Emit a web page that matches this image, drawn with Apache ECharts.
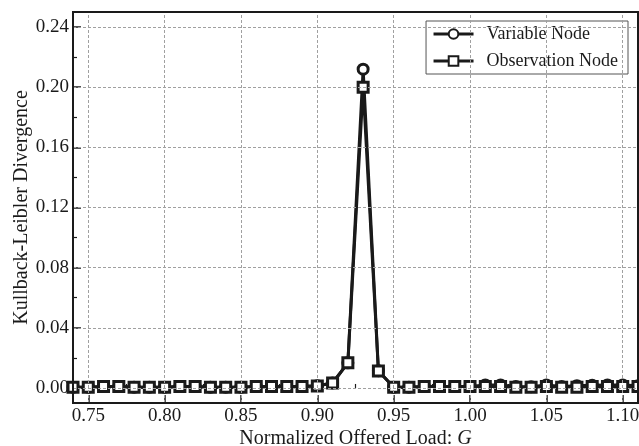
<!DOCTYPE html>
<html>
<head>
<meta charset="utf-8">
<script src="https://cdn.jsdelivr.net/npm/echarts@6/dist/echarts.min.js"></script>
<style>
  html, body { margin: 0; padding: 0; background: #fff; }
  #chart { width: 639px; height: 446px; }
</style>
</head>
<body>
<div id="chart"></div>
<script>
// offered load G
const loads = [0.74, 0.75, 0.76, 0.77, 0.78, 0.79, 0.80, 0.81, 0.82, 0.83, 0.84, 0.85, 0.86, 0.87, 0.88, 0.89,
  0.90, 0.91, 0.92, 0.93, 0.94, 0.95, 0.96, 0.97, 0.98, 0.99, 1.00, 1.01, 1.02, 1.03, 1.04, 1.05, 1.06, 1.07,
  1.08, 1.09, 1.10, 1.11];

const variableNode = [0.0005, 0.0005, 0.001, 0.001, 0.0005, 0.0005, 0.0005, 0.001, 0.001, 0.0005, 0.0005, 0.0005,
  0.001, 0.001, 0.001, 0.001, 0.0015, 0.0033, 0.0167, 0.212, 0.0115, 0.0005, 0.0005, 0.001, 0.001, 0.001,
  0.001, 0.002, 0.002, 0.001, 0.0008, 0.002, 0.001, 0.0015, 0.0018, 0.002, 0.002, 0.0015];

const observationNode = [0.0005, 0.0005, 0.001, 0.001, 0.0005, 0.0005, 0.0005, 0.001, 0.001, 0.0005, 0.0005, 0.0005,
  0.001, 0.001, 0.001, 0.001, 0.0013, 0.0033, 0.0167, 0.200, 0.0113, 0.0005, 0.0005, 0.001, 0.001, 0.001,
  0.001, 0.001, 0.001, 0.0005, 0.0005, 0.001, 0.0005, 0.0005, 0.001, 0.001, 0.001, 0.001];

// tick positions
const xTicks = [0.75, 0.80, 0.85, 0.90, 0.95, 1.00, 1.05, 1.10];
const xMinor = [0.775, 0.825, 0.875, 0.925, 0.975, 1.025, 1.075];
const yTicks = [0.00, 0.04, 0.08, 0.12, 0.16, 0.20, 0.24];
const yMinor = [0.02, 0.06, 0.10, 0.14, 0.18, 0.22];

const font = 'Liberation Serif';
const ink = '#1a1a1a';
const xRange = [0.74, 1.11];
const yRange = [-0.01, 0.25];

let chart = echarts.init(document.getElementById('chart'));

function mkSeries(name, symbol, vals) {
  return {
    name: name,
    type: 'line',
    data: loads.map((x, i) => [x, vals[i]]),
    symbol: symbol,
    symbolSize: 10,
    lineStyle: { color: ink, width: 3 },
    itemStyle: { color: '#fff', borderColor: ink, borderWidth: 3 },
    emphasis: { disabled: true },
    z: 3
  };
}

const gridLine = { color: '#a0a0a0', type: [3, 2], width: 1 };

function minorAxis(pos, lo, hi, vals) {
  return {
    type: 'value',
    position: pos,
    min: lo, max: hi,
    axisLine: { show: false },
    axisTick: { show: true, inside: true, length: 4, customValues: vals, lineStyle: { color: ink, width: 1.2 } },
    axisLabel: { show: false },
    splitLine: { show: false }
  };
}

chart.setOption({
  animation: false,
  textStyle: { fontFamily: font },
  grid: { left: 73, right: 1, top: 12, bottom: 43, containLabel: false, outerBoundsMode: 'none' },
  legend: {
    orient: 'vertical',
    right: 11,
    top: 21,
    itemWidth: 40,
    itemHeight: 12,
    itemGap: 9,
    padding: [4, 10, 4, 6],
    borderColor: '#555',
    borderWidth: 1,
    borderRadius: 0,
    backgroundColor: '#fff',
    lineStyle: { width: 3 },
    textStyle: { fontFamily: font, fontSize: 18, color: ink, padding: [0, 0, 0, 8] },
    data: ['Variable Node', 'Observation Node']
  },
  xAxis: [{
    type: 'value',
    position: 'bottom',
    min: xRange[0],
    max: xRange[1],
    name: '{n|Normalized Offered Load: }{g|G}',
    nameLocation: 'middle',
    nameGap: 26,
    nameMoveOverlap: false,
    nameTextStyle: {
      rich: {
        n: { fontFamily: font, fontSize: 20, color: ink },
        g: { fontFamily: font, fontSize: 20, color: ink, fontStyle: 'italic' }
      }
    },
    axisLine: { show: true, onZero: false, lineStyle: { color: ink, width: 2 } },
    axisTick: { inside: true, length: 8, customValues: xTicks, lineStyle: { color: ink, width: 1.5 } },
    axisLabel: {
      fontFamily: font, fontSize: 19, color: ink, margin: 4,
      customValues: xTicks,
      formatter: v => v.toFixed(2)
    },
    splitLine: { show: false }
  }, minorAxis('bottom', xRange[0], xRange[1], xMinor)],
  yAxis: [{
    type: 'value',
    position: 'left',
    min: yRange[0],
    max: yRange[1],
    name: 'Kullback-Leibler Divergence',
    nameLocation: 'middle',
    nameGap: 41,
    nameMoveOverlap: false,
    nameTextStyle: { fontFamily: font, fontSize: 20, color: ink },
    axisLine: { show: true, onZero: false, lineStyle: { color: ink, width: 2 } },
    axisTick: { inside: true, length: 8, customValues: yTicks, lineStyle: { color: ink, width: 1.5 } },
    axisLabel: {
      fontFamily: font, fontSize: 19, color: ink, margin: 4,
      customValues: yTicks,
      formatter: v => v.toFixed(2)
    },
    splitLine: { show: false }
  }, minorAxis('left', yRange[0], yRange[1], yMinor)],
  series: [
    {
      // dashed grid at the major ticks
      type: 'line',
      data: [],
      silent: true,
      z: 1,
      markLine: {
        silent: true,
        symbol: 'none',
        label: { show: false },
        lineStyle: gridLine,
        data: xTicks.map(v => ({ xAxis: v })).concat(yTicks.map(v => ({ yAxis: v })))
      }
    },
    mkSeries('Variable Node', 'circle', variableNode),
    mkSeries('Observation Node', 'rect', observationNode)
  ]
});

// closed frame round the plot
let rect = chart.getModel().getComponent('grid').coordinateSystem.getRect();
chart.setOption({
  graphic: [{
    type: 'rect',
    shape: { x: rect.x, y: rect.y, width: rect.width, height: rect.height },
    style: { fill: 'none', stroke: ink, lineWidth: 2 },
    silent: true,
    z: 10
  }]
});
</script>
</body>
</html>
